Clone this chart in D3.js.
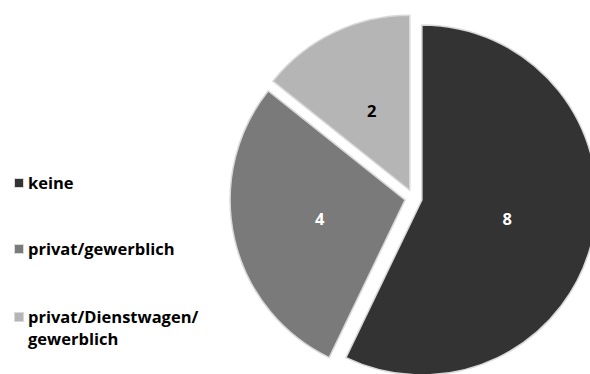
<!DOCTYPE html>
<html>
<head>
<meta charset="utf-8">
<script src="https://cdn.jsdelivr.net/npm/d3@7"></script>
<style>
  html, body { margin: 0; padding: 0; background: #fff; }
  svg { display: block; }
</style>
</head>
<body>
<svg id="chart" width="590" height="374"></svg>
<script>
// Categories and counts
const categories = ["keine", "privat/gewerblich", "privat/Dienstwagen/gewerblich"];
const legendLines = [["keine"], ["privat/gewerblich"], ["privat/Dienstwagen/", "gewerblich"]];
const values = [8, 4, 2];
const colors = ["#333333", "#7a7a7a", "#b5b5b5"];
const labelColors = ["#ffffff", "#ffffff", "#000000"];

const svg = d3.select("#chart");
const font = "'Open Sans', Lato, sans-serif";

const cx = 413.5, cy = 198, radius = 175, explode = 8.6;

const pie = d3.pie().sort(null).value(d => d.value).startAngle(0).endAngle(2 * Math.PI);
const arcs = pie(values.map((v, i) => ({ value: v, i })));
const arc = d3.arc().innerRadius(0).outerRadius(radius);

const g = svg.append("g").attr("transform", `translate(${cx},${cy})`);

// Each slice is pulled outward along its bisector
const slices = g.selectAll("g.slice").data(arcs).join("g")
  .attr("class", "slice")
  .attr("transform", d => {
    const a = (d.startAngle + d.endAngle) / 2;
    return `translate(${explode * Math.sin(a)},${-explode * Math.cos(a)})`;
  });

slices.append("path")
  .attr("d", arc)
  .attr("fill", d => colors[d.data.i])
  .attr("stroke", "#d9d9d9")
  .attr("stroke-width", 1.5)
  .attr("stroke-linejoin", "round");

slices.append("text")
  .attr("transform", d => `translate(${arc.centroid(d)})`)
  .attr("text-anchor", "middle")
  .attr("dy", "0.36em")
  .attr("font-family", font)
  .attr("font-weight", "bold")
  .attr("font-size", 16.5)
  .attr("fill", d => labelColors[d.data.i])
  .text(d => d.data.value);

// Legend
const legendY = [183, 249, 317];
const legend = svg.append("g");
categories.forEach((c, i) => {
  const item = legend.append("g").attr("transform", `translate(0,${legendY[i]})`);
  item.append("rect")
    .attr("x", 14.5).attr("y", -4.5)
    .attr("width", 9).attr("height", 9)
    .attr("fill", colors[i])
    .attr("stroke", "#d9d9d9").attr("stroke-width", 1);
  const t = item.append("text")
    .attr("x", 28).attr("y", 0)
    .attr("font-family", font)
    .attr("font-weight", "bold")
    .attr("font-size", 16.5)
    .attr("fill", "#000");
  legendLines[i].forEach((line, j) => {
    t.append("tspan")
      .attr("x", 28)
      .attr("dy", j === 0 ? "0.36em" : 22)
      .text(line);
  });
});
</script>
</body>
</html>
